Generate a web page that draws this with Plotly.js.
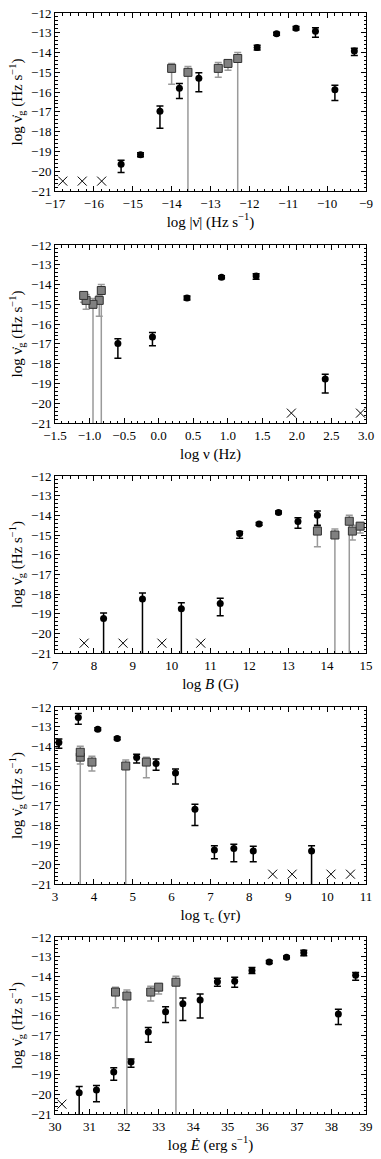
<!DOCTYPE html>
<html>
<head>
<meta charset="utf-8">
<script src="https://cdn.plot.ly/plotly-3.0.1.min.js"></script>
<style>html,body{margin:0;padding:0;background:#fff;}#chart{width:381px;height:1159px;}</style>
</head>
<body>
<div id="chart"></div>
<script>
// ---- shared gray-square (upper-limit style) sample ----
const sqY  = [-14.8, -15.0, -14.8, -14.55, -14.3];
const sqHi = [-14.55, -14.7, -14.5, -14.38, -14.0];
const sqLo = [-15.6, null, -15.25, -14.9, null];

// ---- panel 1: log |nu dot| ----
const p1CircX = [-15.3, -14.8, -14.3, -13.8, -13.3, -11.8, -11.3, -10.8, -10.3, -9.8, -9.3];
const p1CircY = [-19.65, -19.17, -16.97, -15.8, -15.3, -13.75, -13.05, -12.77, -12.92, -15.88, -13.92];
const p1CircHi = [-19.45, -19.07, -16.7, -15.57, -15.02, -13.63, -12.97, -12.68, -12.75, -15.65, -13.78];
const p1CircLo = [-20.07, -19.27, -17.83, -16.32, -15.98, -13.87, -13.12, -12.86, -13.22, -16.42, -14.15];
const p1SqX = [-14.0, -13.58, -12.8, -12.55, -12.3];
const p1CrossX = [-16.8, -16.3, -15.8];

// ---- panel 2: log nu ----
const p2CircX = [-0.59, -0.09, 0.41, 0.91, 1.41, 2.41];
const p2CircY = [-16.98, -16.65, -14.68, -13.63, -13.57, -18.78];
const p2CircHi = [-16.74, -16.42, -14.58, -13.55, -13.45, -18.54];
const p2CircLo = [-17.72, -17.1, -14.78, -13.71, -13.73, -19.48];
const p2SqX = [-0.86, -0.95, -1.05, -1.085, -0.83];
const p2CrossX = [1.92, 2.92];

// ---- panel 3: log B ----
const p3CircX = [8.25, 9.25, 10.25, 11.25, 11.75, 12.25, 12.75, 13.25, 13.75];
const p3CircY = [-19.25, -18.25, -18.75, -18.48, -14.93, -14.44, -13.85, -14.31, -14.0];
const p3CircHi = [-18.97, -17.95, -18.45, -18.22, -14.82, -14.37, -13.78, -14.12, -13.78];
const p3CircLo = [null, null, null, -19.1, -15.16, -14.51, -13.92, -14.66, -14.5];
const p3SqX = [13.75, 14.2, 14.65, 14.85, 14.57];
const p3CrossX = [7.75, 8.75, 9.75, 10.75];

// ---- panel 4: log tau_c ----
const p4CircX = [3.1, 3.6, 4.1, 4.6, 5.1, 5.6, 6.1, 6.6, 7.1, 7.6, 8.1, 9.6];
const p4CircY = [-13.8, -12.53, -13.13, -13.6, -14.57, -14.87, -15.35, -17.2, -19.27, -19.2, -19.32, -19.32];
const p4CircHi = [-13.63, -12.33, -13.06, -13.53, -14.4, -14.65, -15.15, -16.95, -19.05, -18.98, -19.08, -19.05];
const p4CircLo = [-14.1, -12.88, -13.2, -13.67, -14.85, -15.22, -15.92, -18.02, -19.72, -19.87, -19.87, null];
const p4SqX = [5.35, 4.82, 3.95, 3.65, 3.65];
const p4CrossX = [8.6, 9.1, 10.1, 10.6];

// ---- panel 5: log E dot ----
const p5CircX = [30.7, 31.2, 31.7, 32.2, 32.7, 33.2, 33.7, 34.2, 34.7, 35.2, 35.7, 36.2, 36.7, 37.2, 38.2, 38.7];
const p5CircY = [-19.92, -19.78, -18.87, -18.35, -16.83, -15.8, -15.4, -15.2, -14.27, -14.25, -13.7, -13.27, -13.03, -12.8, -15.92, -13.95];
const p5CircHi = [-19.6, -19.55, -18.65, -18.2, -16.6, -15.55, -15.1, -14.9, -14.1, -14.05, -13.55, -13.2, -12.97, -12.68, -15.68, -13.8];
const p5CircLo = [null, -20.38, -19.28, -18.62, -17.35, -16.35, -16.25, -16.12, -14.5, -14.55, -13.85, -13.35, -13.1, -12.95, -16.45, -14.2];
const p5SqX = [31.75, 32.08, 32.77, 33.0, 33.5];
const p5CrossX = [30.2];

const crossY = -20.5;
const yMin = -21, yMax = -12;
const floorY = -22; // lower limits drawn down past the axis

const xTitles = [
  'log |ν\u0307| (Hz s<sup>\u22121</sup>)',
  'log ν (Hz)',
  'log <i>B</i> (G)',
  'log τ<sub>c</sub> (yr)',
  'log <i>E\u0307</i> (erg s<sup>\u22121</sup>)'
];
const yTitle = 'log ν\u0307<sub>g</sub> (Hz s<sup>\u22121</sup>)';
const xRanges = [[-17, -9], [-1.5, 3.0], [7, 15], [3, 11], [30, 39]];
const xDticks = [1, 0.5, 1, 1, 1];
const xMinor = [0.2, 0.1, 0.2, 0.2, 0.2];
const xFormats = ['d', '.1f', 'd', 'd', 'd'];

const panels = [
  {cx: p1CircX, cy: p1CircY, hi: p1CircHi, lo: p1CircLo, sx: p1SqX, xx: p1CrossX},
  {cx: p2CircX, cy: p2CircY, hi: p2CircHi, lo: p2CircLo, sx: p2SqX, xx: p2CrossX},
  {cx: p3CircX, cy: p3CircY, hi: p3CircHi, lo: p3CircLo, sx: p3SqX, xx: p3CrossX},
  {cx: p4CircX, cy: p4CircY, hi: p4CircHi, lo: p4CircLo, sx: p4SqX, xx: p4CrossX},
  {cx: p5CircX, cy: p5CircY, hi: p5CircHi, lo: p5CircLo, sx: p5SqX, xx: p5CrossX}
];

// plot-area pixel boxes (top, bottom) of each panel
const W = 381, H = 1159;
const boxes = [[13, 191], [245, 423], [476, 653], [707, 884], [937, 1114]];
const xDom = [55 / W, 366 / W];

const FONT = '"Liberation Serif", "DejaVu Serif", serif';
const traces = [];
const layout = {
  width: W, height: H,
  margin: {l: 0, r: 0, t: 0, b: 0},
  paper_bgcolor: 'white', plot_bgcolor: 'white',
  showlegend: false,
  font: {family: FONT, color: 'black', size: 12}
};

function plus(y, hi) { return y.map((v, i) => hi[i] - v); }
function minus(y, lo) { return y.map((v, i) => v - (lo[i] === null ? floorY : lo[i])); }

panels.forEach((p, i) => {
  const n = i + 1;
  const xa = n === 1 ? 'x' : 'x' + n;
  const ya = n === 1 ? 'y' : 'y' + n;
  // crosses
  traces.push({
    type: 'scatter', mode: 'markers', xaxis: xa, yaxis: ya,
    x: p.xx, y: p.xx.map(() => crossY),
    marker: {symbol: 'x-thin-open', size: 9, color: 'black', line: {color: 'black', width: 1}},
    hoverinfo: 'skip'
  });
  // gray squares
  traces.push({
    type: 'scatter', mode: 'markers', xaxis: xa, yaxis: ya,
    x: p.sx, y: sqY,
    error_y: {type: 'data', symmetric: false, array: plus(sqY, sqHi), arrayminus: minus(sqY, sqLo),
              color: '#9a9a9a', thickness: 1.5, width: 3.5},
    marker: {symbol: 'square', size: 8, color: '#808080', line: {color: '#303030', width: 1}},
    hoverinfo: 'skip'
  });
  // black circles
  traces.push({
    type: 'scatter', mode: 'markers', xaxis: xa, yaxis: ya,
    x: p.cx, y: p.cy,
    error_y: {type: 'data', symmetric: false, array: plus(p.cy, p.hi), arrayminus: minus(p.cy, p.lo),
              color: 'black', thickness: 1.5, width: 3.5},
    marker: {symbol: 'circle', size: 7, color: 'black'},
    hoverinfo: 'skip'
  });

  const [top, bot] = boxes[i];
  const axCommon = {
    showgrid: false, zeroline: false, showline: true, linecolor: 'black', linewidth: 1,
    mirror: 'allticks', ticks: 'inside', ticklen: 5, tickwidth: 1, tickcolor: 'black',
    tickfont: {family: FONT, size: 13, color: 'black'}
  };
  layout['xaxis' + (n === 1 ? '' : n)] = Object.assign({}, axCommon, {
    anchor: ya, domain: xDom, range: xRanges[i], autorange: false,
    tick0: xRanges[i][0], dtick: xDticks[i], tickformat: xFormats[i],
    minor: {ticks: 'inside', ticklen: 2.5, tickwidth: 1, tickcolor: 'black', dtick: xMinor[i], tick0: xRanges[i][0]},
    title: {text: xTitles[i], font: {family: FONT, size: 15, color: 'black'}, standoff: 6}
  });
  layout['yaxis' + (n === 1 ? '' : n)] = Object.assign({}, axCommon, {
    anchor: xa, domain: [1 - bot / H, 1 - top / H], range: [yMin, yMax], autorange: false,
    tick0: yMin, dtick: 1, tickformat: 'd',
    minor: {ticks: 'inside', ticklen: 2.5, tickwidth: 1, tickcolor: 'black', dtick: 0.2, tick0: yMin},
    title: {text: yTitle, font: {family: FONT, size: 15, color: 'black'}, standoff: 4}
  });
});

Plotly.newPlot('chart', traces, layout, {staticPlot: true, displayModeBar: false});
</script>
</body>
</html>
